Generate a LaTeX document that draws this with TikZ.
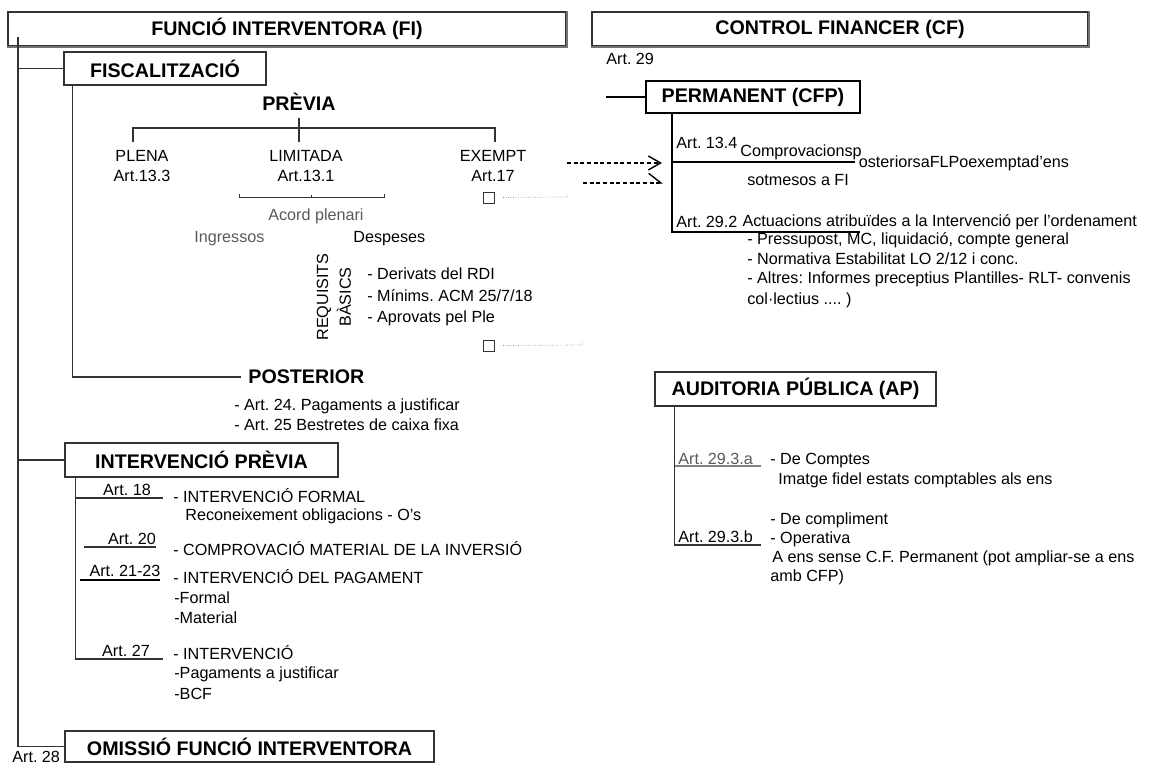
\documentclass[tikz,border=0pt]{standalone}
\usepackage{fontspec}
\setmainfont{Liberation Sans}
\frenchspacing
\usetikzlibrary{arrows.meta}
\usetikzlibrary{positioning}
\usetikzlibrary{fit}
\tikzset{ln/.style = {draw = black!80, line width = 0.6pt}}
\tikzset{strong/.style = {draw = black, line width = 1.1pt}}
\tikzset{box/.style = {draw = black!80, line width = 0.7pt, inner sep = 0}}
\tikzset{boxrim/.style = {draw = black!55, line width = 1.1pt}}
\tikzset{heading/.style = {inner sep = 0, font = \fontsize{11.2}{13}\selectfont\bfseries}}
\tikzset{txt/.style = {inner sep = 0, anchor = west, font = \fontsize{9.2}{11.4}\selectfont}}
\tikzset{ctxt/.style = {txt, anchor = center, align = center}}
\tikzset{dim/.style = {text = black!65}}
\tikzset{leader/.style = {draw = black!45, line width = 0.4pt, densely dotted}}
\tikzset{sq/.style = {draw = black!80, line width = 0.5pt, inner sep = 0, minimum size = 0.22cm}}
\tikzset{dasharr/.style = {draw = black, line width = 0.8pt, dash pattern = on 2.2pt off 1.6pt}}

\begin{document}
\begin{tikzpicture}[x = 0.02cm, y = -0.02cm]
        \useasboundingbox (0, 0) rectangle (1157, 766);

        \node [box, fit = {(8, 12) (566, 46)}] (fi) {};
        \node [heading] (finame) at (fi) {FUNCIÓ INTERVENTORA (FI)};
        \draw [boxrim] (fi.north east) -- (fi.south east) -- (fi.south west);
        \node [box, fit = {(592, 12) (1088, 46)}] (cf) {};
        \node [heading] (cfname) at (cf) {CONTROL FINANCER (CF)};
        \draw [boxrim] (cf.north east) -- (cf.south east) -- (cf.south west);
        \node [txt] (art29) at (606, 59) {Art. 29};

        % funcio interventora
        \coordinate (spine) at (18, 37);
        \node [box, fit = {(64, 52) (266, 85)}] (fisc) {};
        \node [heading] (fiscname) at (fisc) {FISCALITZACIÓ};
        \node [box, fit = {(65, 443) (338, 477)}] (ip) {};
        \node [heading] (ipname) at (ip) {INTERVENCIÓ PRÈVIA};
        \node [box, fit = {(65, 731) (434, 762)}] (omis) {};
        \node [heading] (omisname) at (omis) {OMISSIÓ FUNCIÓ INTERVENTORA};
        \node [txt] (art28) at (12, 757) {Art. 28};
        \draw [ln] (spine) |- (omis.west);
        \draw [ln] (spine |- fisc.west) -- (fisc.west);
        \draw [ln] (spine |- ip.west) -- (ip.west);

        \node [heading] (prev) at (299, 102) {PRÈVIA};
        \coordinate (fork) at (299, 128);
        \coordinate (dropa) at (133, 142);
        \coordinate (dropb) at (299, 142);
        \coordinate (dropc) at (495, 142);
        \draw [ln] ([yshift = -4pt] prev.south) -- (fork) -- (dropb);
        \draw [ln] (dropa) |- (fork) -| (dropc);
        \node [ctxt] (plena) at (142, 166) {PLENA\\Art.13.3};
        \node [ctxt] (limit) at (306, 166) {LIMITADA\\Art.13.1};
        \node [ctxt] (exempt) at (493, 166) {EXEMPT\\Art.17};
        \draw [ln, line width = 0.5pt] (239, 194) -- (239, 197) -- (384, 197) -- (384, 194);
        \draw [ln, line width = 0.4pt] (311, 195) -- (311, 197);
        \node [txt, dim, anchor = center] (acord) at (316, 216) {Acord plenari};
        \node [txt, dim] (ingr) at (194, 239) {Ingressos};
        \node [txt] (desp) at (353, 239) {Despeses};
        \node [txt, rotate = 90, anchor = center] (req) at (324, 297) {REQUISITS};
        \node [txt, rotate = 90, anchor = center] (bas) at (344, 297) {BÀSICS};
        \node [txt] (req1) at (367, 274) {- Derivats del RDI};
        \node [txt] (req2) at (367, 296) {- Mínims. ACM 25/7/18};
        \node [txt] (req3) at (367, 318) {- Aprovats pel Ple};

        \node [sq] (sqa) at (488.5, 197.5) {};
        \coordinate (sqaend) at (567, 197);
        \draw [leader] ([xshift = 5pt] sqa.east) -- (sqaend) -- ++(0, -3);
        \node [sq] (sqb) at (488.5, 345.5) {};
        \coordinate (sqbend) at (582, 345);
        \draw [leader] ([xshift = 5pt] sqb.east) -- (sqbend) -- ++(0, -3);

        \node [heading, anchor = west, inner xsep = 4pt] (post) at (241, 377) {POSTERIOR};
        \draw [ln] (fisc.south west) ++(9, 0) |- (post.west);
        \node [txt] (posta) at (234, 406) {- Art. 24. Pagaments a justificar};
        \node [txt] (postb) at (234, 425) {- Art. 25 Bestretes de caixa fixa};

        % intervencio previa
        \coordinate (ipend) at (163, 659);
        \draw [ln] (ip.south west) ++(11, 0) |- (ipend);
        \node [txt, anchor = center] (a18) at (127, 490) {Art. 18};
        \draw [ln] (76, 498) -- (163, 498);
        \node [txt] (ipa) at (173, 496) {- INTERVENCIÓ FORMAL};
        \node [txt] (ipaa) at (185, 516) {Reconeixement obligacions - O’s};
        \node [txt, anchor = center] (a20) at (132, 539) {Art. 20};
        \draw [ln] (84, 547) -- (156, 547);
        \node [txt] (ipb) at (173, 549) {- COMPROVACIÓ MATERIAL DE LA INVERSIÓ};
        \node [txt, anchor = center] (a21) at (125, 571) {Art. 21-23};
        \draw [strong, line width = 1.2pt] (80, 580) -- (160, 580);
        \node [txt] (ipc) at (173, 577) {- INTERVENCIÓ DEL PAGAMENT};
        \node [txt] (ipca) at (174, 598) {-Formal};
        \node [txt] (ipcb) at (174, 618) {-Material};
        \node [txt, anchor = center] (a27) at (126, 651) {Art. 27};
        \node [txt] (ipd) at (173, 653) {- INTERVENCIÓ};
        \node [txt] (ipda) at (174, 674) {-Pagaments a justificar};
        \node [txt] (ipdb) at (174, 694) {-BCF};

        % control financer permanent
        \node [box, strong, inner sep = 0, fit = {(646, 81) (860, 113)}] (perm) {};
        \node [heading] (permname) at (perm) {PERMANENT (CFP)};
        \coordinate (permlead) at (606, 97);
        \draw [strong] (permlead) -- (perm.west);
        \coordinate (permstem) at (672, 113);
        \coordinate (perma) at (855, 162);
        \coordinate (permb) at (860, 232);
        \draw [strong] (permstem) |- (permb);
        \draw [strong] (permstem |- perma) -- (perma);
        \node [txt] (a134) at (676, 143) {Art. 13.4};
        \node [txt] (comp) at (740, 152) {Comprovacionsp};
        \node [txt, right = 0pt of comp, xshift = -2pt, yshift = -6.5pt] (ost) {osteriorsaFLPoexemptad’ens};
        \node [txt] (sotm) at (747, 180) {sotmesos a FI};
        \node [txt] (a292) at (676, 222) {Art. 29.2};
        \node [txt, right = 2.5pt of a292] (actu) {Actuacions atribuïdes a la Intervenció per l’ordenament};
        \node [txt] (actua) at (747, 240) {- Pressupost, MC, liquidació, compte general};
        \node [txt] (actub) at (747, 259) {- Normativa Estabilitat LO 2/12 i conc.};
        \node [txt] (actuc) at (747, 279) {- Altres: Informes preceptius Plantilles- RLT- convenis};
        \node [txt] (actud) at (747, 300) {col·lectius .... )};

        \coordinate (exa) at (567, 163);
        \coordinate (exb) at (583, 183);
        \coordinate (pa) at (662, 163);
        \coordinate (pb) at (663, 183);
        \draw [dasharr, -{Straight Barb[length = 7pt, width = 8pt]}] (exa) -- (pa);
        \draw [dasharr, -{Straight Barb[left, length = 7pt, width = 11pt]}] (exb) -- (pb);

        % auditoria publica
        \node [box, fit = {(655, 372) (936, 406)}] (aud) {};
        \node [heading] (audname) at (aud) {AUDITORIA PÚBLICA (AP)};
        \coordinate (audend) at (761, 545);
        \draw [ln] (aud.south west) ++(20, 0) |- (audend);
        \node [txt, dim] (a293a) at (678, 459) {Art. 29.3.a};
        \draw [ln, black!50] (675, 466) -- (761, 466);
        \node [txt] (auda) at (770, 461) {- De Comptes};
        \node [txt] (audaa) at (778, 480) {Imatge fidel estats comptables als ens};
        \node [txt] (audb) at (770, 520) {- De compliment};
        \node [txt] (a293b) at (678, 537) {Art. 29.3.b};
        \node [txt] (audc) at (770, 539) {- Operativa};
        \node [txt] (audca) at (772, 558) {A ens sense C.F. Permanent (pot ampliar-se a ens};
        \node [txt] (audcb) at (770, 577) {amb CFP)};
\end{tikzpicture}
\end{document}
